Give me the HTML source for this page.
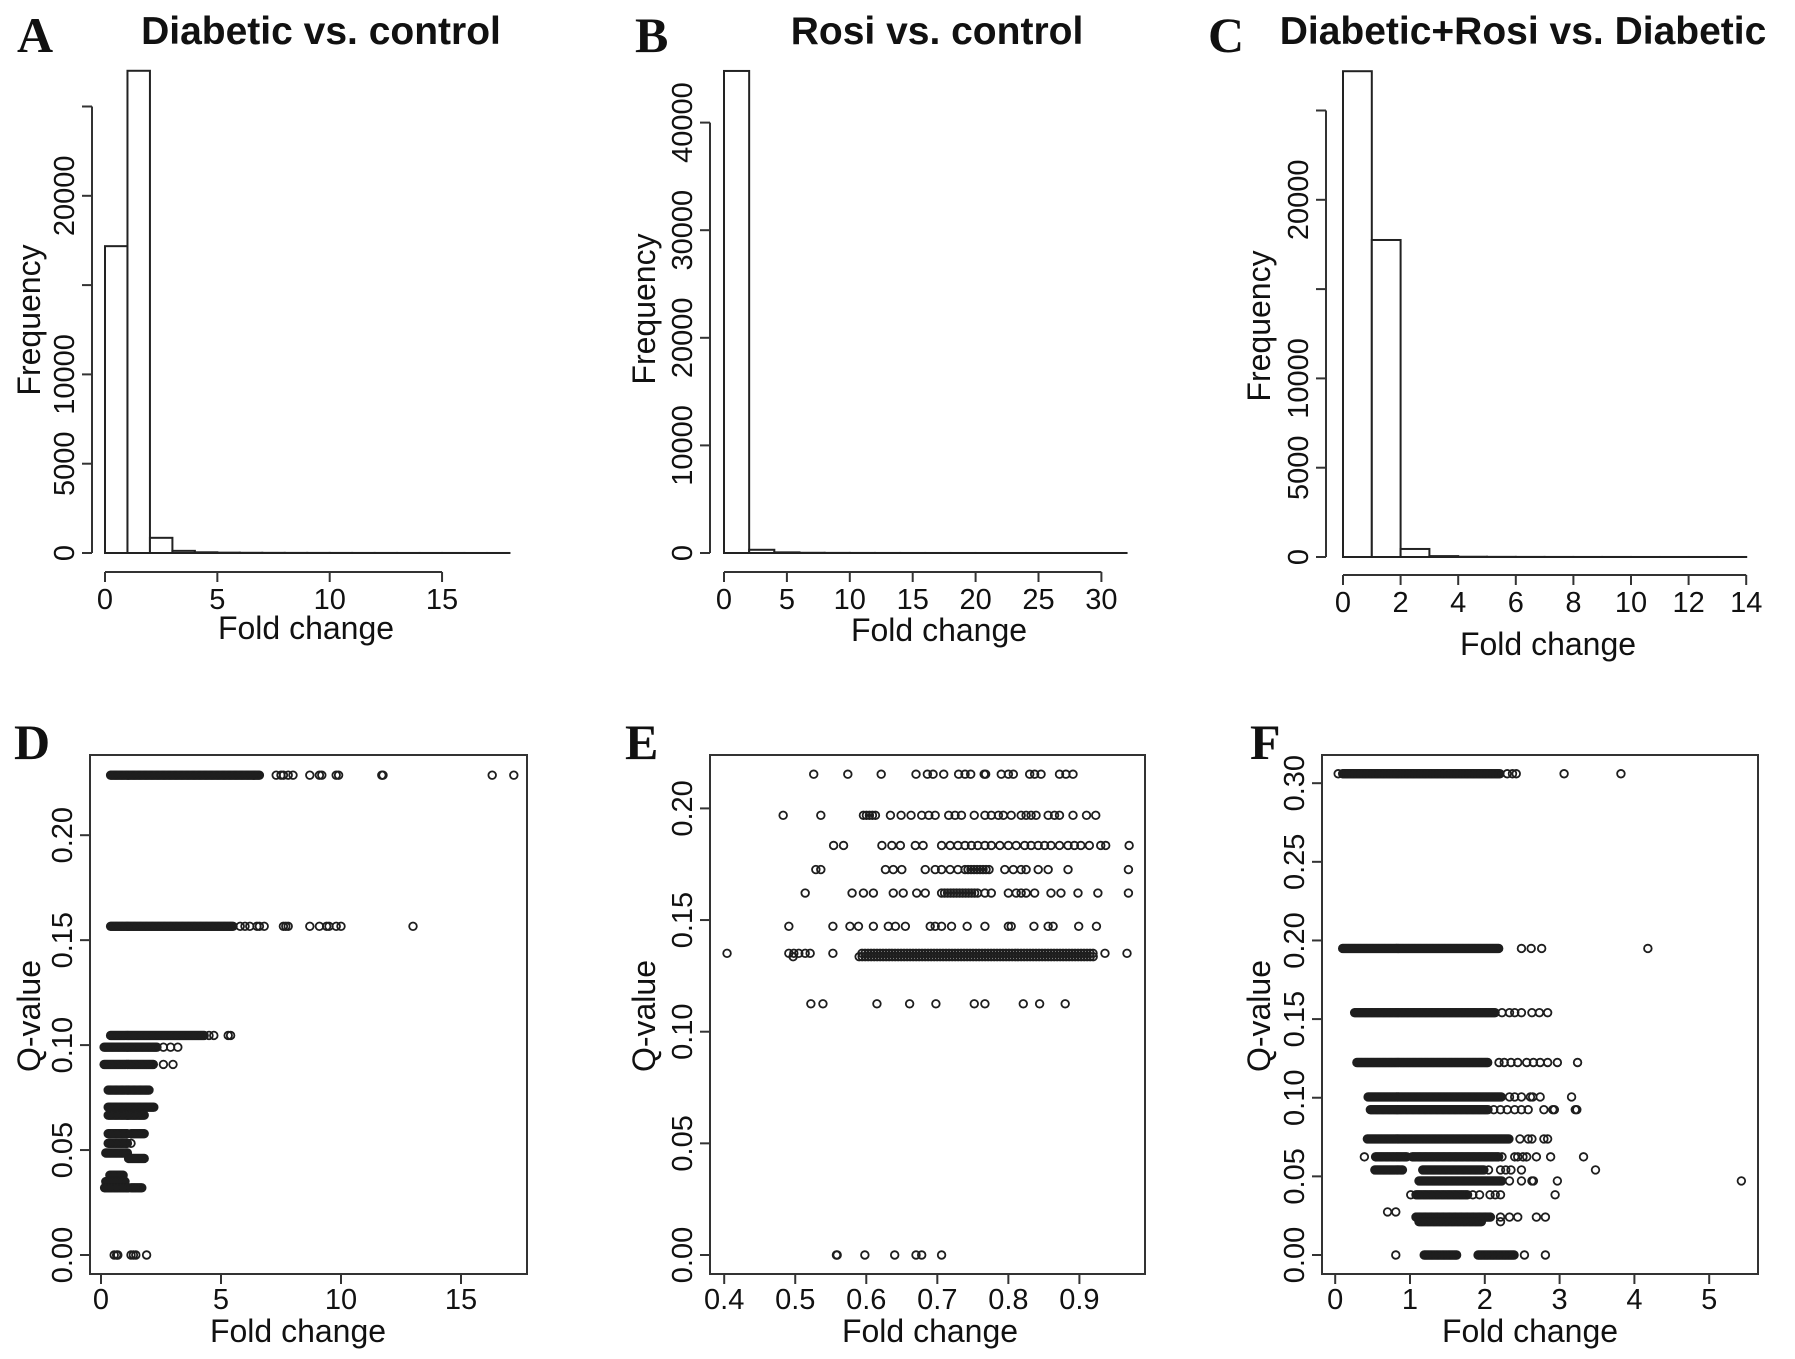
<!DOCTYPE html>
<html><head><meta charset="utf-8"><style>
html,body{margin:0;padding:0;background:#fff;}
svg{display:block;}
text{font-family:"Liberation Sans",Arial,sans-serif;fill:#111;}
.lett{font-family:"Liberation Serif",serif;font-weight:bold;font-size:50px;}
.ttl{font-weight:bold;font-size:39px;}
.tick{font-size:29px;}
.axt{font-size:32px;}
</style></head><body>
<svg id="fig" width="1795" height="1359" viewBox="0 0 1795 1359" xmlns="http://www.w3.org/2000/svg"></svg>
<script>
// ---------- Histogram data ----------
const histA_counts = [17180, 27000, 850, 120, 40, 20, 12, 8, 6, 5, 4, 3, 3, 2, 2, 2, 1, 1];
const histA_binWidth = 1;
const histA_yTicks = [0, 5000, 10000, 15000, 20000, 25000];
const histA_yLabels = ["0", "5000", "10000", "", "20000", ""];
const histA_xTicks = [0, 5, 10, 15];

const histB_counts = [44800, 300, 60, 20, 10, 6, 4, 3, 2, 2, 1, 1, 1, 1, 1, 1];
const histB_binWidth = 2;
const histB_yTicks = [0, 10000, 20000, 30000, 40000];
const histB_yLabels = ["0", "10000", "20000", "30000", "40000"];
const histB_xTicks = [0, 5, 10, 15, 20, 25, 30];

const histC_counts = [27200, 17750, 450, 50, 15, 8, 5, 3, 2, 2, 1, 1, 1, 1];
const histC_binWidth = 1;
const histC_yTicks = [0, 5000, 10000, 15000, 20000, 25000];
const histC_yLabels = ["0", "5000", "10000", "", "20000", ""];
const histC_xTicks = [0, 2, 4, 6, 8, 10, 12, 14];

// ---------- Scatter data (rows of equal Q-value: dense runs + individual points) ----------
const scatD_q = [0.2286, 0.1566, 0.1046, 0.099, 0.0908, 0.0786, 0.0704, 0.0666, 0.0578, 0.0532, 0.0486, 0.046, 0.038, 0.035, 0.032, 0];
const scatD_runs = [[[0.4,6.6]],[[0.4,5.5]],[[0.4,4.3]],[[0.13,2.36]],[[0.13,2.2]],[[0.3,2.0]],[[0.3,2.2]],[[0.3,1.8]],[[0.3,1.1],[1.25,1.8]],[[0.3,1.1]],[[0.2,1.1]],[[1.15,1.8]],[[0.37,0.93]],[[0.2,1.0]],[[0.15,1.15],[1.25,1.72]],[]];
const scatD_pts = [[7.3,7.5,7.6,7.8,8.0,8.7,9.1,9.2,9.8,9.9,11.7,11.75,16.3,17.2],[5.8,6.0,6.2,6.5,6.6,6.8,7.6,7.7,7.8,8.7,9.1,9.4,9.5,9.8,10.0,13.0],[4.5,4.7,5.3,5.4],[2.6,2.9,3.2],[2.6,3.0],[],[],[],[],[1.25],[],[],[],[],[],[0.55,0.65,0.7,1.25,1.35,1.45,1.9]];
const scatD_xTicks = [0, 5, 10, 15];
const scatD_yTicks = [0, 0.05, 0.10, 0.15, 0.20];
const scatD_yLabels = ["0.00", "0.05", "0.10", "0.15", "0.20"];

const scatE_q = [0.2153, 0.1969, 0.1834, 0.1726, 0.1621, 0.1472, 0.1351, 0.1336, 0.1125, 0];
const scatE_runs = [[],[[0.596,0.617]],[],[[0.739,0.776]],[[0.706,0.757]],[],[[0.594,0.921]],[[0.59,0.92]],[],[]];
const scatE_pts = [
 [0.526,0.574,0.621,0.670,0.686,0.694,0.709,0.730,0.739,0.747,0.766,0.768,0.790,0.800,0.807,0.830,0.837,0.846,0.872,0.881,0.891],
 [0.483,0.536,0.634,0.649,0.663,0.678,0.688,0.697,0.716,0.725,0.734,0.752,0.767,0.776,0.786,0.793,0.804,0.818,0.825,0.832,0.839,0.856,0.865,0.872,0.891,0.910,0.923],
 [0.554,0.568,0.622,0.636,0.648,0.669,0.680,0.706,0.718,0.729,0.739,0.748,0.757,0.767,0.776,0.788,0.800,0.811,0.823,0.832,0.842,0.851,0.860,0.872,0.884,0.893,0.902,0.914,0.930,0.937,0.970],
 [0.529,0.536,0.627,0.638,0.650,0.683,0.697,0.706,0.718,0.729,0.795,0.807,0.818,0.825,0.842,0.856,0.884,0.969],
 [0.514,0.580,0.596,0.610,0.638,0.652,0.671,0.683,0.767,0.776,0.800,0.811,0.818,0.825,0.837,0.860,0.874,0.898,0.926,0.969],
 [0.491,0.553,0.577,0.589,0.610,0.631,0.641,0.655,0.690,0.697,0.706,0.720,0.742,0.767,0.800,0.804,0.836,0.856,0.863,0.899,0.924],
 [0.404,0.491,0.498,0.505,0.514,0.521,0.553,0.936,0.967],
 [0.497],
 [0.522,0.539,0.615,0.661,0.698,0.752,0.767,0.821,0.844,0.880],
 [0.558,0.559,0.598,0.640,0.670,0.678,0.706]];
const scatE_xTicks = [0.4, 0.5, 0.6, 0.7, 0.8, 0.9];
const scatE_yTicks = [0, 0.05, 0.10, 0.15, 0.20];
const scatE_yLabels = ["0.00", "0.05", "0.10", "0.15", "0.20"];

const scatF_q = [0.306, 0.1949, 0.1541, 0.1224, 0.1005, 0.0924, 0.0738, 0.0624, 0.0541, 0.0471, 0.0383, 0.0274, 0.0241, 0.0212, 0];
const scatF_runs = [[[0.10,2.21]],[[0.10,2.19]],[[0.26,2.14]],[[0.29,2.05]],[[0.44,2.23]],[[0.47,2.05]],[[0.43,2.33]],[[0.54,0.96],[1.03,2.19]],[[0.53,0.91],[1.17,2.0]],[[1.12,2.23]],[[1.08,1.77]],[],[[1.08,2.09]],[[1.12,1.96]],[[1.19,1.63],[1.91,2.40]]];
const scatF_pts = [[0.04,2.30,2.37,2.42,3.06,3.82],[2.49,2.62,2.76,4.18],[2.23,2.33,2.40,2.49,2.63,2.73,2.84],[2.19,2.26,2.35,2.44,2.56,2.65,2.74,2.84,2.97,3.24],[2.33,2.40,2.49,2.61,2.64,2.74,3.16],[2.12,2.21,2.30,2.40,2.49,2.58,2.79,2.91,2.93,3.21,3.23],[2.47,2.58,2.63,2.79,2.84],[0.39,2.23,2.40,2.44,2.51,2.56,2.69,2.88,3.32],[2.05,2.21,2.28,2.35,2.49,3.48],[2.33,2.49,2.63,2.65,2.97,5.43],[1.01,1.84,1.93,2.07,2.14,2.21,2.94],[0.70,0.81],[2.21,2.33,2.44,2.69,2.81],[2.21],[0.81,2.53,2.81]];
const scatF_xTicks = [0, 1, 2, 3, 4, 5];
const scatF_yTicks = [0, 0.05, 0.10, 0.15, 0.20, 0.25, 0.30];
const scatF_yLabels = ["0.00", "0.05", "0.10", "0.15", "0.20", "0.25", "0.30"];

// ---------- drawing ----------
const NS = "http://www.w3.org/2000/svg";
const svg = document.getElementById("fig");
function mk(tag, parent) { const e = document.createElementNS(NS, tag); parent.appendChild(e); return e; }
function line(p, x1, y1, x2, y2, name) {
  const l = mk("line", p);
  l.setAttribute("x1", x1); l.setAttribute("y1", y1); l.setAttribute("x2", x2); l.setAttribute("y2", y2);
  l.setAttribute("stroke", "#333"); l.setAttribute("stroke-width", "2");
  
  
  return l;
}
function txt(p, x, y, s, cls, anchor, rot, name) {
  const t = mk("text", p);
  t.setAttribute("x", x); t.setAttribute("y", y); t.setAttribute("class", cls);
  t.setAttribute("text-anchor", anchor);
  if (rot) t.setAttribute("transform", "rotate(-90 " + x + " " + y + ")");
  t.textContent = s;
  
  
  return t;
}
function group(name) {
  const g = mk("g", svg);
  
  
  return g;
}

function histogram(cfg) {
  const g = group(cfg.name);
  const x = v => cfg.x0 + v * cfg.xs;
  const y = f => cfg.y0 - f * cfg.ys;
  txt(g, cfg.letterX, cfg.letterY, cfg.letter, "lett", "start", false, "panel-label");
  txt(g, cfg.titleX, 44, cfg.title, "ttl", "middle", false, "panel-title");
  cfg.counts.forEach((c, i) => {
    const r = mk("rect", g);
    const x1 = x(i * cfg.bw), x2 = x((i + 1) * cfg.bw);
    r.setAttribute("x", x1); r.setAttribute("y", y(c));
    r.setAttribute("width", x2 - x1); r.setAttribute("height", Math.max(0.01, y(0) - y(c)));
    r.setAttribute("fill", "#fff"); r.setAttribute("stroke", "#222"); r.setAttribute("stroke-width", "2");
    
    
  });
  const yt = cfg.yTicks;
  line(g, cfg.axX, y(yt[0]), cfg.axX, y(yt[yt.length - 1]), "y-axis-line");
  yt.forEach((v, i) => {
    line(g, cfg.axX - 10, y(v), cfg.axX, y(v), "y-tick");
    if (cfg.yLabels[i]) txt(g, cfg.axX - 18, y(v), cfg.yLabels[i], "tick", "middle", true, "y-tick-label");
  });
  const xt = cfg.xTicks;
  line(g, x(xt[0]), cfg.axY, x(xt[xt.length - 1]), cfg.axY, "x-axis-line");
  xt.forEach(v => {
    line(g, x(v), cfg.axY, x(v), cfg.axY + 10, "x-tick");
    txt(g, x(v), cfg.axY + 37, String(v), "tick", "middle", false, "x-tick-label");
  });
  txt(g, cfg.xtX, cfg.xtY, "Fold change", "axt", "middle", false, "x-axis-title");
  txt(g, cfg.ytX, cfg.ytY, "Frequency", "axt", "middle", true, "y-axis-title");
}

function scatter(cfg) {
  const g = group(cfg.name);
  const x = v => cfg.x0 + (v - cfg.xmin) * cfg.xs;
  const y = q => cfg.y0 - q * cfg.ys;
  txt(g, cfg.letterX, 759, cfg.letter, "lett", "start", false, "panel-label");
  const box = mk("rect", g);
  box.setAttribute("x", cfg.bx1); box.setAttribute("y", 755);
  box.setAttribute("width", cfg.bx2 - cfg.bx1); box.setAttribute("height", 519);
  box.setAttribute("fill", "none"); box.setAttribute("stroke", "#333"); box.setAttribute("stroke-width", "2");
  
  
  cfg.yTicks.forEach((v, i) => {
    line(g, cfg.bx1 - 10, y(v), cfg.bx1, y(v), "y-tick");
    txt(g, cfg.bx1 - 18, y(v), cfg.yLabels[i], "tick", "middle", true, "y-tick-label");
  });
  cfg.xTicks.forEach(v => {
    line(g, x(v), 1274, x(v), 1284, "x-tick");
    txt(g, x(v), 1309, String(v), "tick", "middle", false, "x-tick-label");
  });
  txt(g, cfg.xtX, 1342, "Fold change", "axt", "middle", false, "x-axis-title");
  txt(g, cfg.ytX, 1016, "Q-value", "axt", "middle", true, "y-axis-title");
  const pg = mk("g", g);
  pg.setAttribute("fill", "none"); pg.setAttribute("stroke", "#1e1e1e"); pg.setAttribute("stroke-width", "1.8");
  
  
  function dot(v, q) {
    const c = mk("circle", pg);
    c.setAttribute("cx", x(v)); c.setAttribute("cy", y(q)); c.setAttribute("r", 3.8);
    
    
  }
  cfg.q.forEach((q, i) => {
    cfg.runs[i].forEach(run => {
      const px1 = x(run[0]), px2 = x(run[1]);
      for (let p = px1; p <= px2 + 0.01; p += cfg.step) dot(run[0] + (p - px1) / cfg.xs, q);
    });
    cfg.pts[i].forEach(v => dot(v, q));
  });
}

histogram({name:"panel-a-histogram", letter:"A", letterX:17, letterY:52, title:"Diabetic vs. control", titleX:321,
  counts:histA_counts, bw:histA_binWidth, yTicks:histA_yTicks, yLabels:histA_yLabels, xTicks:histA_xTicks,
  x0:105, xs:22.47, y0:553, ys:89.3/5000, axX:92, axY:572, xtX:306, xtY:639, ytX:40, ytY:320});
histogram({name:"panel-b-histogram", letter:"B", letterX:635, letterY:52, title:"Rosi vs. control", titleX:937,
  counts:histB_counts, bw:histB_binWidth, yTicks:histB_yTicks, yLabels:histB_yLabels, xTicks:histB_xTicks,
  x0:724, xs:12.58, y0:553, ys:107.6/10000, axX:710, axY:572, xtX:939, xtY:641, ytX:655, ytY:309});
histogram({name:"panel-c-histogram", letter:"C", letterX:1208, letterY:52, title:"Diabetic+Rosi vs. Diabetic", titleX:1523,
  counts:histC_counts, bw:histC_binWidth, yTicks:histC_yTicks, yLabels:histC_yLabels, xTicks:histC_xTicks,
  x0:1343, xs:28.8, y0:557, ys:89.3/5000, axX:1326, axY:575, xtX:1548, xtY:655, ytX:1270, ytY:326});

scatter({name:"panel-d-scatter", letter:"D", letterX:14, bx1:90, bx2:527, q:scatD_q, runs:scatD_runs, pts:scatD_pts,
  xTicks:scatD_xTicks, yTicks:scatD_yTicks, yLabels:scatD_yLabels, xmin:0, x0:101, xs:24, y0:1255, ys:2099, step:1.2, xtX:298, ytX:40});
scatter({name:"panel-e-scatter", letter:"E", letterX:625, bx1:710, bx2:1145, q:scatE_q, runs:scatE_runs, pts:scatE_pts,
  xTicks:scatE_xTicks, yTicks:scatE_yTicks, yLabels:scatE_yLabels, xmin:0.4, x0:724.2, xs:710.4, y0:1255, ys:2233, step:3.0, xtX:930, ytX:655});
scatter({name:"panel-f-scatter", letter:"F", letterX:1250, bx1:1322, bx2:1758, q:scatF_q, runs:scatF_runs, pts:scatF_pts,
  xTicks:scatF_xTicks, yTicks:scatF_yTicks, yLabels:scatF_yLabels, xmin:0, x0:1335.2, xs:74.8, y0:1255, ys:1572.7, step:1.2, xtX:1530, ytX:1270});
</script>
</body></html>
